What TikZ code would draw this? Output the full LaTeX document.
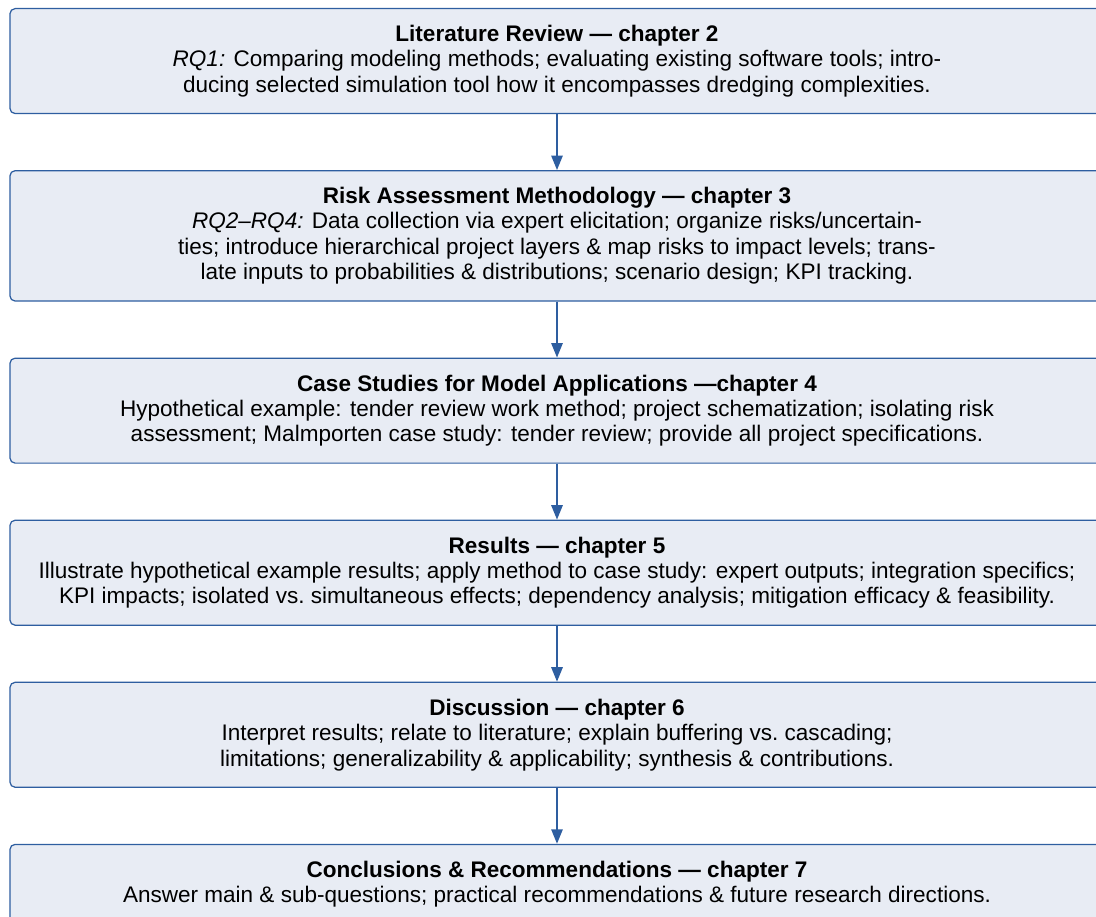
\documentclass[tikz,border=0pt]{standalone}
\usepackage{fontspec}
\setmainfont{Liberation Sans}
\usepackage{xcolor}
\usepackage{tikz}
\definecolor{chapterblue}{RGB}{46, 94, 160}
\definecolor{chapterfill}{RGB}{232, 236, 244}
\usetikzlibrary{arrows.meta, positioning}

\begin{document}
\begin{tikzpicture}[
    node distance=0.95cm,
    chapter/.style={rectangle, rounded corners=2.5pt, draw=chapterblue, line width=0.6pt, fill=chapterfill,
        minimum width=18.6cm, inner ysep=8pt, align=center, font=\fontsize{10.9}{12.3}\selectfont},
    arrow/.style={-{Triangle[width=5.5pt, length=7pt]}, draw=chapterblue, fill=chapterblue, line width=0.8pt}
]
    \useasboundingbox (0, 0) rectangle (18.632, -15.589);

    \node[chapter, anchor=north] (lit) at (9.469, -0.136) {\textbf{Literature Review — chapter 2}\\
        \textit{RQ1:} Comparing modeling methods; evaluating existing software tools; intro-\\
        ducing selected simulation tool how it encompasses dredging complexities.};
    \node[chapter, below=of lit] (risk) {\textbf{Risk Assessment Methodology — chapter 3}\\
        \textit{RQ2–RQ4:} Data collection via expert elicitation; organize risks/uncertain-\\
        ties; introduce hierarchical project layers \& map risks to impact levels; trans-\\
        late inputs to probabilities \& distributions; scenario design; KPI tracking.};
    \node[chapter, below=of risk] (cases) {\textbf{Case Studies for Model Applications —chapter 4}\\
        Hypothetical example: tender review work method; project schematization; isolating risk\\
        assessment; Malmporten case study: tender review; provide all project specifications.};
    \node[chapter, below=of cases] (results) {\textbf{Results — chapter 5}\\
        Illustrate hypothetical example results; apply method to case study: expert outputs; integration specifics;\\
        KPI impacts; isolated vs.\ simultaneous effects; dependency analysis; mitigation efficacy \& feasibility.};
    \node[chapter, below=of results] (disc) {\textbf{Discussion — chapter 6}\\
        Interpret results; relate to literature; explain buffering vs.\ cascading;\\
        limitations; generalizability \& applicability; synthesis \& contributions.};
    \node[chapter, below=of disc] (concl) {\textbf{Conclusions \& Recommendations — chapter 7}\\
        Answer main \& sub-questions; practical recommendations \& future research directions.};

    \draw[arrow] (lit) -- (risk);
    \draw[arrow] (risk) -- (cases);
    \draw[arrow] (cases) -- (results);
    \draw[arrow] (results) -- (disc);
    \draw[arrow] (disc) -- (concl);
\end{tikzpicture}
\end{document}
